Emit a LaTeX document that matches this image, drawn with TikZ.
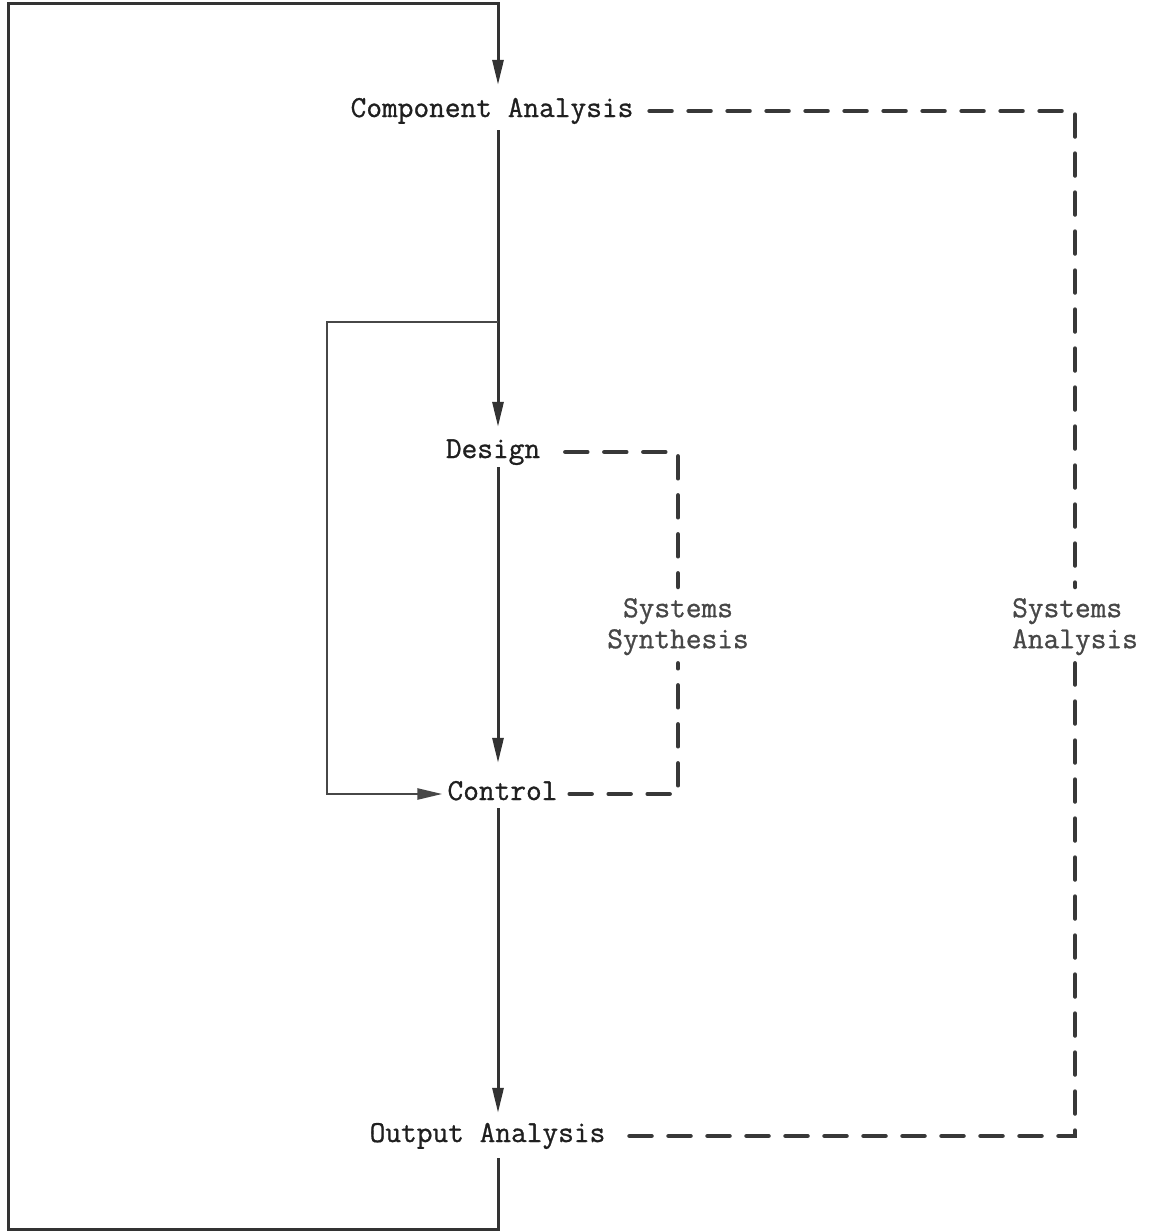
\documentclass[tikz,border=0pt]{standalone}
\usepackage{fontspec}
\newfontfamily\typewriter[FakeBold=0.9]{Latin Modern Mono}
\usetikzlibrary{arrows.meta}
\begin{document}
\begin{tikzpicture}[x=1pt,y=-1pt,
  lbl/.style={font=\typewriter\fontsize{30.5}{31}\selectfont, text=black!88, inner sep=0pt, text height=19pt, text depth=7pt, anchor=base},
  sidelbl/.style={font=\typewriter\fontsize{30.5}{31}\selectfont, text=black!72, inner sep=0pt},
  flow/.style={line width=3pt, draw=black!80},
  thinflow/.style={line width=2.5pt, draw=black!72},
  flowarrow/.style={-{Triangle[length=25pt,width=11pt]}},
  dsh/.style={line width=4.5pt, draw=black!78, line cap=round, dash pattern=on 22pt off 17pt}]
\useasboundingbox (0,0) rectangle (1158,1231);
\fill[white] (0,0) rectangle (1158,1231);

% main text nodes
\node[lbl] (ca)  at (492,117)   {Component Analysis};
\node[lbl] (des) at (493,458)   {Design};
\node[lbl] (ctl) at (502.5,800) {Control};
\node[lbl] (oa)  at (487.5,1142){Output Analysis};

% side labels
\node[sidelbl, anchor=north, align=center] (ss) at (678,598) {Systems\\Synthesis};
\node[sidelbl, anchor=north west, align=left] (sa) at (1012,598) {Systems\\Analysis};

% helper coordinates
\coordinate (m)  at (498,0);
\coordinate (tl) at (8,4);
\coordinate (bl) at (8,1229);
\coordinate (il) at (327,322);

% outer feedback loop
\draw[flow, flowarrow] ([yshift=-9pt]oa.south -| m) -- (m |- bl) -- (bl) -- (tl) -- (m |- tl) -- ([yshift=13pt]ca.north -| m);

% main flow
\draw[flow, flowarrow] ([yshift=-6pt]ca.south -| m) -- ([yshift=12pt]des.north -| m);
\draw[flow, flowarrow] ([yshift=-2pt]des.south -| m) -- ([yshift=18pt]ctl.north -| m);
\draw[flow, flowarrow] ([yshift=-1pt]ctl.south -| m) -- ([yshift=10pt]oa.north -| m);

% inner loop
\draw[thinflow, flowarrow] (m |- il) -- (il) -- (il |- ctl.west) -- ([xshift=-5pt]ctl.west);

% systems synthesis
\draw[dsh] ([xshift=25pt]des.east) -- (des.east -| ss.north) -- ([yshift=11pt]ss.north);
\draw[dsh] ([xshift=12pt]ctl.east) -- (ctl.east -| ss.south) -- ([yshift=-8pt]ss.south);

% systems analysis
\draw[dsh] ([xshift=16pt]ca.east) -- (ca.east -| sa.north) -- ([yshift=11pt]sa.north);
\draw[dsh] ([xshift=24pt]oa.east) -- (oa.east -| sa.south) -- ([yshift=-8pt]sa.south);
\end{tikzpicture}
\end{document}
